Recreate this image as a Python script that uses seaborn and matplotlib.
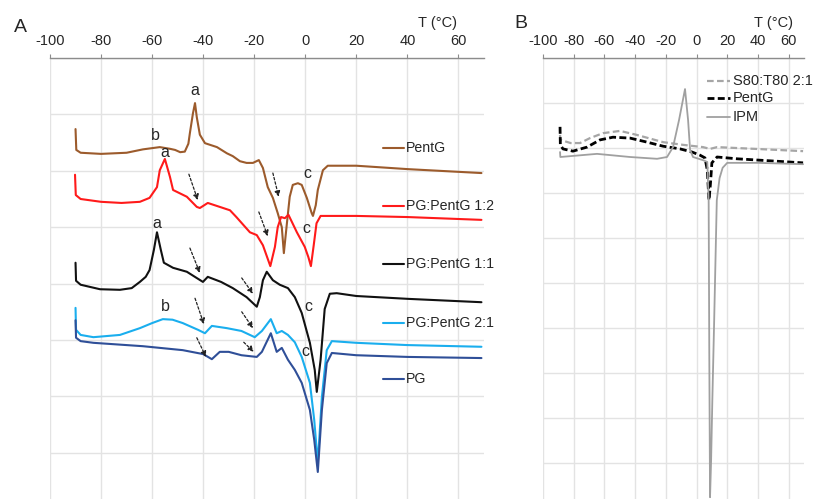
import matplotlib
matplotlib.use("Agg")
import matplotlib.pyplot as plt
import pandas as pd
import seaborn as sns

# ---------------- Panel A data (T in °C, heat flow in arbitrary grid units) ----------------
pentg_T = [-90.0, -89.7, -88.0, -80.0, -70.0, -63.6, -57.0, -53.0, -51.0, -49.0, -47.2, -45.8, -45.2,
           -44.0, -43.2, -42.5, -41.3, -39.3, -34.6, -30.7, -28.4, -25.6, -23.0, -20.5, -18.2, -16.6,
           -14.7, -12.7, -10.8, -9.2, -8.4, -7.2, -6.1, -4.9, -2.9, -1.4, 0.6, 2.5, 3.0, 4.1, 4.9,
           6.9, 8.8, 20.0, 40.0, 69.0]
pentg_y = [-1.26, -1.63, -1.68, -1.70, -1.68, -1.62, -1.58, -1.61, -1.63, -1.67, -1.66, -1.52, -1.33,
           -0.98, -0.80, -1.05, -1.36, -1.51, -1.58, -1.69, -1.74, -1.83, -1.86, -1.86, -1.81, -1.95,
           -2.29, -2.48, -2.75, -3.00, -3.46, -2.93, -2.46, -2.25, -2.22, -2.25, -2.48, -2.75, -2.80,
           -2.61, -2.34, -1.99, -1.91, -1.91, -1.97, -2.04]

pg_pentg_12_T = [-90.2, -89.9, -88.0, -80.0, -72.0, -64.8, -61.0, -58.1, -57.0, -55.0, -53.0, -51.8,
                 -50.0, -46.4, -42.5, -41.3, -38.2, -33.5, -29.5, -27.0, -21.7, -19.0, -16.6, -13.7,
                 -11.9, -10.8, -9.5, -8.0, -6.6, -5.0, -3.3, -0.2, 1.2, 2.2, 3.3, 4.4, 6.0, 9.6,
                 20.0, 40.0, 69.0]
pg_pentg_12_y = [-2.07, -2.43, -2.50, -2.55, -2.57, -2.55, -2.48, -2.29, -1.99, -1.79, -2.11, -2.34,
                 -2.38, -2.46, -2.64, -2.66, -2.57, -2.64, -2.70, -2.82, -3.09, -3.14, -3.32, -3.69,
                 -3.35, -3.00, -2.82, -2.84, -2.78, -2.93, -3.09, -3.35, -3.53, -3.69, -3.32, -2.93,
                 -2.80, -2.80, -2.80, -2.82, -2.87]

pg_pentg_11_T = [-90.0, -89.8, -88.0, -80.4, -72.6, -68.0, -64.8, -62.5, -61.0, -59.3, -58.1, -56.6,
                 -55.4, -51.8, -46.4, -40.1, -38.2, -33.0, -28.4, -23.0, -19.0, -17.8, -16.6, -15.1,
                 -12.7, -10.0, -6.8, -4.1, -1.4, 1.8, 3.7, 4.5, 6.0, 7.6, 9.6, 12.3, 20.0, 40.0, 69.0]
pg_pentg_11_y = [-3.63, -3.95, -4.02, -4.10, -4.11, -4.08, -3.97, -3.88, -3.76, -3.40, -3.09, -3.40,
                 -3.63, -3.72, -3.79, -3.97, -3.88, -3.97, -4.08, -4.24, -4.41, -4.24, -3.94, -3.79,
                 -3.94, -4.02, -4.08, -4.24, -4.52, -5.05, -5.53, -5.92, -5.35, -4.45, -4.18, -4.17,
                 -4.22, -4.27, -4.33]

pg_pentg_21_T = [-90.0, -89.8, -88.0, -83.0, -72.6, -64.8, -60.0, -55.8, -52.0, -48.0, -42.0, -39.3,
                 -36.6, -30.7, -25.0, -19.8, -17.0, -13.5, -11.2, -9.2, -6.8, -4.1, -1.4, 1.8, 3.5,
                 4.9, 6.5, 8.4, 10.4, 20.0, 40.0, 69.0]
pg_pentg_21_y = [-4.43, -4.82, -4.91, -4.95, -4.91, -4.79, -4.70, -4.63, -4.64, -4.70, -4.82, -4.88,
                 -4.75, -4.79, -4.84, -4.95, -4.84, -4.63, -4.88, -4.84, -4.91, -5.04, -5.30, -5.76,
                 -6.42, -7.18, -6.01, -5.18, -5.02, -5.05, -5.09, -5.12]

pg_T = [-90.0, -89.8, -88.0, -83.0, -63.6, -48.0, -40.0, -36.6, -33.5, -30.0, -25.0, -19.0, -17.0,
        -13.5, -11.2, -9.2, -6.8, -4.1, -1.4, 1.8, 3.5, 4.9, 6.5, 8.4, 10.4, 20.0, 40.0, 69.0]
pg_y = [-4.65, -4.96, -5.02, -5.05, -5.11, -5.18, -5.25, -5.34, -5.21, -5.21, -5.27, -5.30, -5.21,
        -4.88, -5.21, -5.14, -5.35, -5.53, -5.76, -6.24, -6.77, -7.34, -6.24, -5.41, -5.23, -5.27,
        -5.30, -5.32]

series_A = ["PentG", "PG:PentG 1:2", "PG:PentG 1:1", "PG:PentG 2:1", "PG"]
colors_A = ["#9C5B2C", "#FF1A1A", "#111111", "#1AAEEE", "#2F4F98"]

# ---------------- Panel B data ----------------
s80_T = [-88.9, -88.7, -82.0, -75.9, -69.4, -60.9, -49.8, -38.8, -21.8, -8.8, 4.2, 8.8, 13.4, 69.4]
s80_y = [-1.71, -1.82, -1.89, -1.89, -1.78, -1.67, -1.62, -1.71, -1.87, -1.93, -1.98, -2.02, -1.98, -2.07]

pentgB_T = [-88.9, -88.7, -87.0, -80.5, -71.3, -62.9, -54.4, -43.3, -32.2, -21.8, -10.7, -2.9, 2.3,
            5.5, 7.0, 8.1, 9.0, 10.0, 13.4, 26.4, 69.4]
pentgB_y = [-1.53, -1.93, -2.02, -2.07, -1.98, -1.82, -1.76, -1.78, -1.87, -1.96, -2.02, -2.09, -2.16,
            -2.22, -2.49, -3.16, -2.82, -2.33, -2.20, -2.24, -2.33]

ipm_T = [-88.9, -88.7, -64.8, -43.3, -25.7, -19.2, -15.3, -11.4, -7.5, -5.5, -4.2, -2.3, 4.2, 7.0,
         7.9, 8.3, 8.8, 9.5, 10.3, 11.5, 13.2, 15.0, 17.0, 20.0, 40.0, 69.4]
ipm_y = [-2.09, -2.20, -2.13, -2.20, -2.24, -2.20, -1.98, -1.38, -0.69, -1.38, -2.04, -2.20, -2.27,
         -2.31, -3.16, -6.49, -9.76, -8.93, -7.60, -5.82, -3.16, -2.67, -2.44, -2.33, -2.33, -2.36]

series_B = ["S80:T80 2:1", "PentG", "IPM"]

x_ticks = [-100, -80, -60, -40, -20, 0, 20, 40, 60]
x_ticklabels = ["-100", "-80", "-60", "-40", "-20", "0", "20", "40", "60"]

# peak letters (label, T, y)
letters_A = [("a", -43.2, -0.57), ("b", -58.9, -1.37), ("a", -55.0, -1.68), ("a", -58.1, -2.94),
             ("b", -55.0, -4.41), ("c", 1.0, -2.04), ("c", 0.6, -3.03), ("c", 1.4, -4.40),
             ("c", 0.2, -5.20)]
# dashed arrows (T_tail, y_tail, T_head, y_head)
arrows_A = [(-45.6, -2.06, -42.1, -2.52), (-12.7, -2.04, -10.4, -2.46), (-18.2, -2.73, -14.7, -3.16),
            (-45.2, -3.37, -41.3, -3.81), (-24.9, -3.90, -20.5, -4.18), (-43.2, -4.26, -39.7, -4.72),
            (-24.9, -4.50, -20.5, -4.79), (-42.5, -4.96, -38.9, -5.30), (-24.1, -5.04, -20.2, -5.21)]
legend_rows_A = [-1.60, -2.62, -3.65, -4.70, -5.69]
legend_rows_B = [-0.51, -0.89, -1.31]

# ---------------- build frames ----------------
dfA = pd.concat([
    pd.DataFrame({"T": t, "y": v, "sample": n})
    for n, t, v in zip(series_A,
                       [pentg_T, pg_pentg_12_T, pg_pentg_11_T, pg_pentg_21_T, pg_T],
                       [pentg_y, pg_pentg_12_y, pg_pentg_11_y, pg_pentg_21_y, pg_y])
], ignore_index=True)

dfB = pd.concat([
    pd.DataFrame({"T": t, "y": v, "sample": n})
    for n, t, v in zip(series_B, [s80_T, pentgB_T, ipm_T], [s80_y, pentgB_y, ipm_y])
], ignore_index=True)

sns.set_theme(style="white")
plt.rcParams["font.family"] = ["Liberation Sans", "DejaVu Sans"]
plt.rcParams["axes.unicode_minus"] = False

fig = plt.figure(figsize=(8.16, 4.99), dpi=100)
axA = fig.add_axes([50 / 816, 0.0, 434 / 816, 441 / 499])
axB = fig.add_axes([543 / 816, 0.0, 261 / 816, 441 / 499])

grid_c = "#E3E3E3"
axis_c = "#8C8C8C"
text_c = "#262626"


def style_axis(ax, ybottom):
    ax.set_xlim(-100, 70)
    ax.set_ylim(ybottom, 0)
    ax.xaxis.tick_top()
    ax.set_xticks(x_ticks)
    ax.set_xticklabels(x_ticklabels)
    ax.set_yticks(list(range(0, int(ybottom) - 1, -1)))
    ax.set_yticklabels([])
    ax.tick_params(axis="x", direction="out", length=3, width=0.8, color=axis_c, pad=4,
                   labelsize=10.5, labelcolor=text_c, top=True, bottom=False)
    ax.tick_params(axis="y", length=0)
    ax.grid(True, color=grid_c, linewidth=1.0)
    for s in ["left", "right", "bottom"]:
        ax.spines[s].set_visible(False)
    ax.spines["top"].set_color(axis_c)
    ax.spines["top"].set_linewidth(1.0)
    ax.set_xlabel("")
    ax.set_ylabel("")
    ax.set_axisbelow(True)


# Panel A curves
sns.lineplot(data=dfA, x="T", y="y", hue="sample", hue_order=series_A,
             palette=dict(zip(series_A, colors_A)), sort=False, estimator=None,
             legend=False, linewidth=1.5, ax=axA)
style_axis(axA, -441 / 56.4)

for lab, t, v in letters_A:
    axA.text(t, v, lab, ha="center", va="center", fontsize=11.5, color=text_c)
for t0, y0, t1, y1 in arrows_A:
    axA.annotate("", xy=(t1, y1), xytext=(t0, y0),
                 arrowprops=dict(arrowstyle="-|>", color="#222222", lw=0.9,
                                 linestyle=(0, (2.0, 1.6)), mutation_scale=8,
                                 shrinkA=0, shrinkB=0))
for name, col, yr in zip(series_A, colors_A, legend_rows_A):
    axA.plot([30.3, 38.6], [yr, yr], color=col, lw=1.5, clip_on=False)
    axA.text(39.4, yr, name, ha="left", va="center", fontsize=10.2, color=text_c, clip_on=False)

# Panel B curves
b_styles = {"S80:T80 2:1": dict(color="#A6A6A6", lw=1.6, ls=(0, (3, 1.5))),
            "PentG": dict(color="#000000", lw=2.0, ls=(0, (2.5, 1.2))),
            "IPM": dict(color="#A0A0A0", lw=1.3, ls="-")}
for name in series_B:
    sub = dfB[dfB["sample"] == name]
    st = b_styles[name]
    sns.lineplot(data=sub, x="T", y="y", sort=False, estimator=None, legend=False,
                 color=st["color"], linewidth=st["lw"], linestyle=st["ls"], ax=axB)
style_axis(axB, -441 / 45)
for name, yr in zip(series_B, legend_rows_B):
    st = b_styles[name]
    axB.plot([6.8, 21.8], [yr, yr], color=st["color"], lw=st["lw"], ls=st["ls"], clip_on=False)
    axB.text(23.6, yr, name, ha="left", va="center", fontsize=10.5, color=text_c, clip_on=False)

# Titles / axis names
fig.text(437 / 816, 1 - 23 / 499, "T (°C)", ha="center", va="center", fontsize=10.5, color=text_c)
fig.text(774 / 816, 1 - 23 / 499, "T (°C)", ha="center", va="center", fontsize=10.5, color=text_c)
fig.text(20 / 816, 1 - 27 / 499, "A", ha="center", va="center", fontsize=14, color=text_c)
fig.text(521 / 816, 1 - 24 / 499, "B", ha="center", va="center", fontsize=14, color=text_c)

fig.savefig("out.png", dpi=100)
